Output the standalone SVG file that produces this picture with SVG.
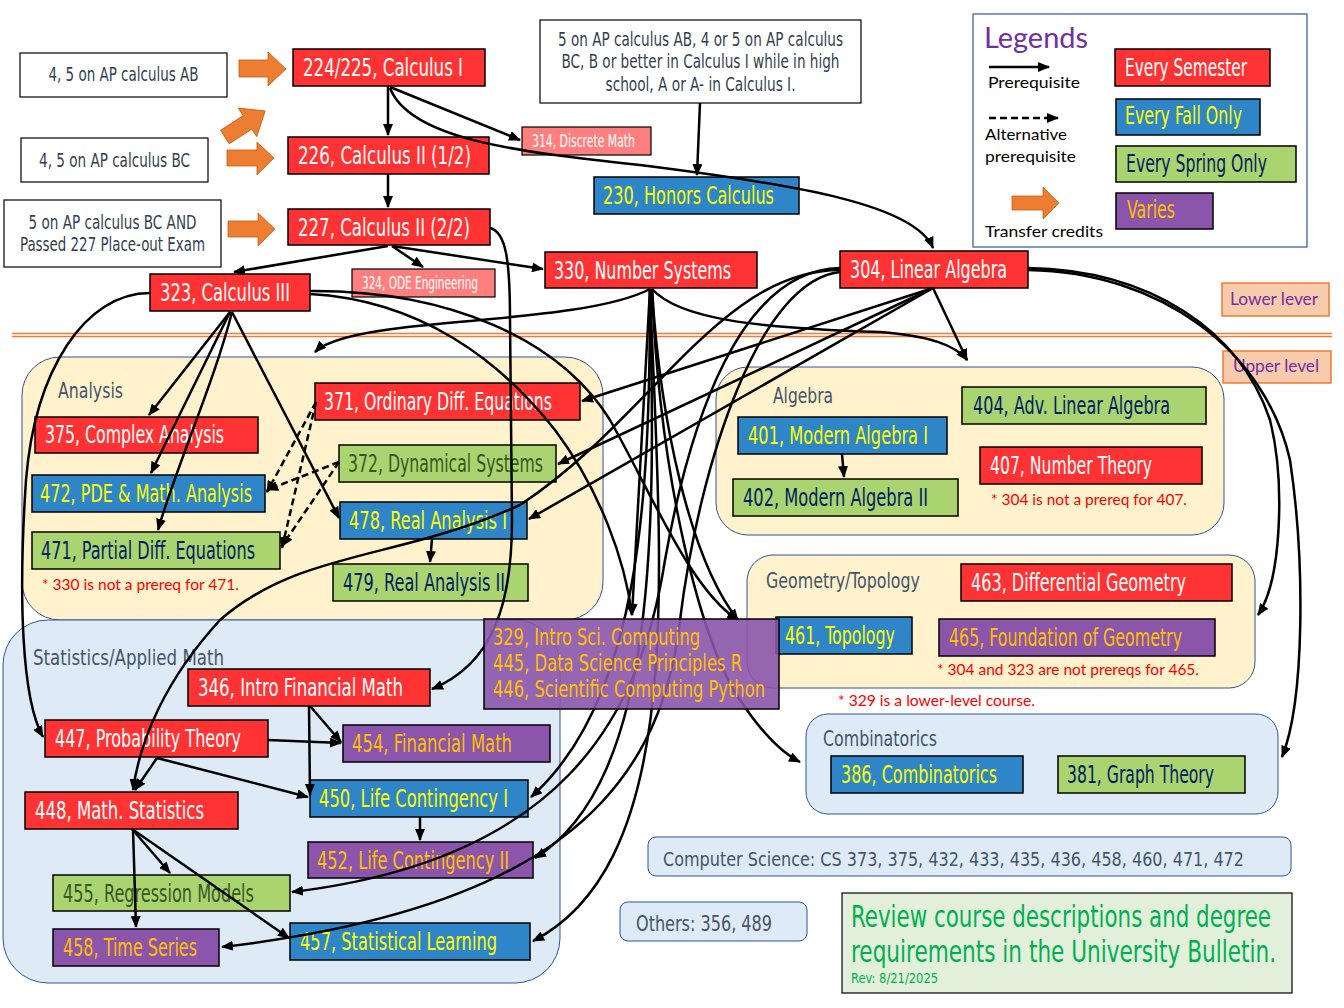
<svg xmlns="http://www.w3.org/2000/svg" width="1344" height="1008" viewBox="0 0 1344 1008">
<style>
.o{font-family:"Liberation Sans Narrow","DejaVu Sans Condensed","Roboto Condensed",sans-serif;}
.c{font-family:Lato,"Liberation Sans",sans-serif;}
.n{font-size:24px;}
.w{fill:#FFFFFF;}
.y{fill:#FFFF00;}
.v{fill:#002060;}
.g{fill:#385723;}
.or{fill:#FFC000;}
.sl{fill:#333F50;}
.lab{fill:#44546A;font-size:21px;}
.note{fill:#FF0000;font-size:16px;}
.red{fill:#FF3333;stroke:#000;stroke-width:1.5;}
.lred{fill:#FF7F7F;stroke:#000;stroke-width:1.2;}
.blue{fill:#2E86C8;stroke:#000;stroke-width:1.5;}
.green{fill:#A9D46F;stroke:#000;stroke-width:1.5;}
.purp{fill:#8A55AA;stroke:#000;stroke-width:1.5;}
.wbox{fill:#FFFFFF;stroke:#000;stroke-width:1.2;}
.reg1{fill:#FFF2CC;stroke:#2F5597;stroke-width:1;}
.reg2{fill:#DEEBF7;stroke:#2F5597;stroke-width:1;}
.tarr{fill:#ED7D31;stroke:#C55A11;stroke-width:0.8;}
.e{fill:none;stroke:#000;stroke-width:2.5;marker-end:url(#ah);}
.d{fill:none;stroke:#000;stroke-width:2.5;stroke-dasharray:7,4;marker-end:url(#ah);}
</style>
<defs>
<marker id="ah" markerUnits="userSpaceOnUse" markerWidth="12" markerHeight="10" refX="11" refY="5" orient="auto">
<path d="M0,0 L12,5 L0,10 z" fill="#000"/>
</marker>
</defs>
<rect width="1344" height="1008" fill="#FFFFFF"/>

<!-- level divider -->
<g id="divider">
<line x1="12" y1="333.5" x2="1332" y2="333.5" stroke="#ED7D31" stroke-width="1.3"/>
<line x1="12" y1="336.5" x2="1332" y2="336.5" stroke="#ED7D31" stroke-width="1.3"/>
</g>

<!-- regions -->
<g id="region-analysis"><rect class="reg1" x="22" y="357" width="581" height="263" rx="38"/><text class="o lab" x="58" y="398" textLength="65" lengthAdjust="spacingAndGlyphs">Analysis</text></g>
<g id="region-stats"><rect class="reg2" x="3" y="620" width="557" height="363" rx="45"/><text class="o lab" x="33" y="665" textLength="191" lengthAdjust="spacingAndGlyphs">Statistics/Applied Math</text></g>
<g id="region-algebra"><rect class="reg1" x="716" y="367" width="508" height="168" rx="32"/><text class="o lab" x="773" y="403" textLength="60" lengthAdjust="spacingAndGlyphs">Algebra</text></g>
<g id="region-geometry"><rect class="reg1" x="747" y="555" width="508" height="133" rx="26"/><text class="o lab" x="766" y="588" textLength="154" lengthAdjust="spacingAndGlyphs">Geometry/Topology</text></g>
<g id="region-comb"><rect class="reg2" x="806" y="714" width="472" height="100" rx="22"/><text class="o lab" x="823" y="746" textLength="114" lengthAdjust="spacingAndGlyphs">Combinatorics</text></g>
<g id="cs"><rect class="reg2" x="648" y="837" width="643" height="39" rx="8"/><text class="o" x="663" y="866" font-size="20" fill="#44546A" textLength="581" lengthAdjust="spacingAndGlyphs">Computer Science: CS 373, 375, 432, 433, 435, 436, 458, 460, 471, 472</text></g>
<g id="others"><rect class="reg2" x="620" y="902" width="187" height="39" rx="8"/><text class="o lab" x="636" y="931" textLength="136" lengthAdjust="spacingAndGlyphs">Others: 356, 489</text></g>
<g id="review"><rect x="842" y="893" width="450" height="100" fill="#E2EFDA" stroke="#000" stroke-width="1.2"/>
<text class="o" x="851" y="927" font-size="31" fill="#00B050" textLength="420" lengthAdjust="spacingAndGlyphs">Review course descriptions and degree</text>
<text class="o" x="851" y="962" font-size="31" fill="#00B050" textLength="425" lengthAdjust="spacingAndGlyphs">requirements in the University Bulletin.</text>
<text class="o" x="851" y="983" font-size="14" fill="#00B050" textLength="87" lengthAdjust="spacingAndGlyphs">Rev: 8/21/2025</text></g>

<!-- notes -->
<text class="c note" x="42" y="590" textLength="197" lengthAdjust="spacingAndGlyphs">* 330 is not a prereq for 471.</text>
<text class="c note" x="991" y="505" textLength="196" lengthAdjust="spacingAndGlyphs">* 304 is not a prereq for 407.</text>
<text class="c note" x="937" y="675" textLength="262" lengthAdjust="spacingAndGlyphs">* 304 and 323 are not prereqs for 465.</text>
<text class="c note" x="838" y="706" textLength="197" lengthAdjust="spacingAndGlyphs">* 329 is a lower-level course.</text>

<!-- level labels -->
<g id="lower"><rect x="1222" y="283" width="107" height="33" fill="#F8CBAD" stroke="#ED7D31" stroke-width="1.5"/><text class="c" x="1230" y="305" font-size="17" fill="#7030A0" textLength="88" lengthAdjust="spacingAndGlyphs">Lower lever</text></g>
<g id="upper"><rect x="1223" y="351" width="108" height="32" fill="#F8CBAD" stroke="#ED7D31" stroke-width="1.5"/><text class="c" x="1233" y="372" font-size="17" fill="#7030A0" textLength="86" lengthAdjust="spacingAndGlyphs">Upper level</text></g>

<!-- legend -->
<g id="legend">
<rect x="973" y="14" width="334" height="233" fill="#FFFFFF" stroke="#2F5597" stroke-width="1.2"/>
<text class="c" x="984" y="48" font-size="29" fill="#7030A0" textLength="104" lengthAdjust="spacingAndGlyphs">Legends</text>
<line x1="989" y1="67" x2="1049" y2="67" class="e"/>
<text class="c" x="988" y="88" font-size="16" fill="#000" textLength="92" lengthAdjust="spacingAndGlyphs">Prerequisite</text>
<line x1="989" y1="118" x2="1058" y2="118" class="d" stroke-dasharray="6,3"/>
<text class="c" x="985" y="140" font-size="16" fill="#000" textLength="82" lengthAdjust="spacingAndGlyphs">Alternative</text>
<text class="c" x="985" y="162" font-size="16" fill="#000" textLength="91" lengthAdjust="spacingAndGlyphs">prerequisite</text>
<polygon class="tarr" points="1012,196 1043,196 1043,187 1059,203 1043,219 1043,210 1012,210"/>
<text class="c" x="985" y="237" font-size="16" fill="#000" textLength="118" lengthAdjust="spacingAndGlyphs">Transfer credits</text>
<rect class="red" x="1115" y="49" width="155" height="37"/><text class="o n w" x="1125" y="76" textLength="122" lengthAdjust="spacingAndGlyphs">Every Semester</text>
<rect class="blue" x="1116" y="99" width="144" height="36"/><text class="o n y" x="1125" y="124" textLength="117" lengthAdjust="spacingAndGlyphs">Every Fall Only</text>
<rect class="green" x="1116" y="146" width="180" height="36"/><text class="o n v" x="1126" y="172" textLength="141" lengthAdjust="spacingAndGlyphs">Every Spring Only</text>
<rect class="purp" x="1116" y="193" width="97" height="36"/><text class="o n or" x="1127" y="218" textLength="48" lengthAdjust="spacingAndGlyphs">Varies</text>
</g>

<!-- transfer arrows -->
<g id="transfer">
<polygon class="tarr" points="239,60 268,60 268,52 286,69 268,86 268,77 239,77"/>
<polygon class="tarr" points="-24,-8 3,-8 3,-17 24,0 3,17 3,8 -24,8" transform="translate(245,124) rotate(-33)"/>
<polygon class="tarr" points="227,150 257,150 257,142 274,158 257,175 257,166 227,166"/>
<polygon class="tarr" points="228,221 258,221 258,213 275,229 258,246 258,237 228,237"/>
</g>

<!-- AP boxes -->
<g id="ap-ab"><rect class="wbox" x="20" y="53" width="207" height="44"/><text class="o sl" x="123.5" y="81" font-size="20" text-anchor="middle" textLength="150" lengthAdjust="spacingAndGlyphs">4, 5 on AP calculus AB</text></g>
<g id="ap-bc"><rect class="wbox" x="21" y="138" width="187" height="44"/><text class="o sl" x="114.5" y="167" font-size="20" text-anchor="middle" textLength="151" lengthAdjust="spacingAndGlyphs">4, 5 on AP calculus BC</text></g>
<g id="ap-bc-exam"><rect class="wbox" x="4" y="200" width="217" height="67"/>
<text class="o sl" x="112.5" y="229" font-size="20" text-anchor="middle" textLength="168" lengthAdjust="spacingAndGlyphs">5 on AP calculus BC AND</text>
<text class="o sl" x="112.5" y="251" font-size="20" text-anchor="middle" textLength="185" lengthAdjust="spacingAndGlyphs">Passed 227 Place-out Exam</text></g>
<g id="honors-req"><rect class="wbox" x="540" y="20" width="321" height="83"/>
<text class="o sl" x="700.5" y="46" font-size="20" text-anchor="middle" textLength="285" lengthAdjust="spacingAndGlyphs">5 on AP calculus AB, 4 or 5 on AP calculus</text>
<text class="o sl" x="700.5" y="68" font-size="20" text-anchor="middle" textLength="278" lengthAdjust="spacingAndGlyphs">BC, B or better in Calculus I while in high</text>
<text class="o sl" x="700.5" y="91" font-size="20" text-anchor="middle" textLength="190" lengthAdjust="spacingAndGlyphs">school, A or A- in Calculus I.</text></g>

<!-- course nodes -->
<g id="c224"><rect class="red" x="293" y="49" width="192" height="37"/><text class="o n w" x="303" y="76" textLength="160" lengthAdjust="spacingAndGlyphs">224/225, Calculus I</text></g>
<g id="c226"><rect class="red" x="288" y="137" width="201" height="37"/><text class="o n w" x="298" y="164" textLength="173" lengthAdjust="spacingAndGlyphs">226, Calculus II (1/2)</text></g>
<g id="c227"><rect class="red" x="288" y="209" width="202" height="36"/><text class="o n w" x="298" y="236" textLength="172" lengthAdjust="spacingAndGlyphs">227, Calculus II (2/2)</text></g>
<g id="c314"><rect class="lred" x="522" y="127" width="129" height="28"/><text class="o w" x="532" y="147" font-size="18" textLength="103" lengthAdjust="spacingAndGlyphs">314, Discrete Math</text></g>
<g id="c230"><rect class="blue" x="594" y="177" width="205" height="37"/><text class="o n y" x="603" y="204" textLength="171" lengthAdjust="spacingAndGlyphs">230, Honors Calculus</text></g>
<g id="c323"><rect class="red" x="150" y="274" width="160" height="37"/><text class="o n w" x="160" y="301" textLength="130" lengthAdjust="spacingAndGlyphs">323, Calculus III</text></g>
<g id="c324"><rect class="lred" x="352" y="269" width="143" height="28"/><text class="o w" x="362" y="289" font-size="17" textLength="116" lengthAdjust="spacingAndGlyphs">324, ODE Engineering</text></g>
<g id="c330"><rect class="red" x="545" y="252" width="212" height="36"/><text class="o n w" x="554" y="279" textLength="177" lengthAdjust="spacingAndGlyphs">330, Number Systems</text></g>
<g id="c304"><rect class="red" x="840" y="251" width="188" height="37"/><text class="o n w" x="850" y="278" textLength="157" lengthAdjust="spacingAndGlyphs">304, Linear Algebra</text></g>

<g id="c371"><rect class="red" x="315" y="383" width="265" height="37"/><text class="o n w" x="324" y="410" textLength="228" lengthAdjust="spacingAndGlyphs">371, Ordinary Diff. Equations</text></g>
<g id="c375"><rect class="red" x="35" y="417" width="223" height="36"/><text class="o n w" x="45" y="443" textLength="179" lengthAdjust="spacingAndGlyphs">375, Complex Analysis</text></g>
<g id="c372"><rect class="green" x="339" y="445" width="217" height="37"/><text class="o n g" x="348" y="472" textLength="195" lengthAdjust="spacingAndGlyphs">372, Dynamical Systems</text></g>
<g id="c472"><rect class="blue" x="32" y="475" width="233" height="37"/><text class="o n y" x="40" y="502" textLength="212" lengthAdjust="spacingAndGlyphs">472, PDE &amp; Math. Analysis</text></g>
<g id="c478"><rect class="blue" x="340" y="502" width="187" height="37"/><text class="o n y" x="349" y="529" textLength="158" lengthAdjust="spacingAndGlyphs">478, Real Analysis I</text></g>
<g id="c471"><rect class="green" x="32" y="532" width="248" height="37"/><text class="o n v" x="41" y="559" textLength="214" lengthAdjust="spacingAndGlyphs">471, Partial Diff. Equations</text></g>
<g id="c479"><rect class="green" x="333" y="564" width="195" height="37"/><text class="o n v" x="343" y="591" textLength="162" lengthAdjust="spacingAndGlyphs">479, Real Analysis II</text></g>

<g id="c346"><rect class="red" x="188" y="669" width="242" height="37"/><text class="o n w" x="198" y="696" textLength="205" lengthAdjust="spacingAndGlyphs">346, Intro Financial Math</text></g>
<g id="c447"><rect class="red" x="45" y="720" width="223" height="37"/><text class="o n w" x="55" y="747" textLength="186" lengthAdjust="spacingAndGlyphs">447, Probability Theory</text></g>
<g id="c454"><rect class="purp" x="343" y="725" width="207" height="37"/><text class="o n or" x="352" y="752" textLength="160" lengthAdjust="spacingAndGlyphs">454, Financial Math</text></g>
<g id="c450"><rect class="blue" x="310" y="780" width="218" height="37"/><text class="o n y" x="319" y="807" textLength="189" lengthAdjust="spacingAndGlyphs">450, Life Contingency I</text></g>
<g id="c448"><rect class="red" x="25" y="792" width="213" height="37"/><text class="o n w" x="35" y="819" textLength="169" lengthAdjust="spacingAndGlyphs">448, Math. Statistics</text></g>
<g id="c452"><rect class="purp" x="308" y="842" width="225" height="36"/><text class="o n or" x="317" y="869" textLength="192" lengthAdjust="spacingAndGlyphs">452, Life Contingency II</text></g>
<g id="c455"><rect class="green" x="53" y="875" width="237" height="36"/><text class="o n g" x="63" y="902" textLength="191" lengthAdjust="spacingAndGlyphs">455, Regression Models</text></g>
<g id="c458"><rect class="purp" x="53" y="929" width="166" height="37"/><text class="o n or" x="63" y="956" textLength="134" lengthAdjust="spacingAndGlyphs">458, Time Series</text></g>
<g id="c457"><rect class="blue" x="290" y="923" width="240" height="37"/><text class="o n y" x="300" y="950" textLength="197" lengthAdjust="spacingAndGlyphs">457, Statistical Learning</text></g>

<g id="c404"><rect class="green" x="962" y="387" width="244" height="37"/><text class="o n v" x="973" y="414" textLength="197" lengthAdjust="spacingAndGlyphs">404, Adv. Linear Algebra</text></g>
<g id="c401"><rect class="blue" x="738" y="417" width="209" height="37"/><text class="o n y" x="748" y="444" textLength="180" lengthAdjust="spacingAndGlyphs">401, Modern Algebra I</text></g>
<g id="c407"><rect class="red" x="980" y="447" width="222" height="37"/><text class="o n w" x="990" y="474" textLength="162" lengthAdjust="spacingAndGlyphs">407, Number Theory</text></g>
<g id="c402"><rect class="green" x="733" y="479" width="225" height="37"/><text class="o n v" x="743" y="506" textLength="185" lengthAdjust="spacingAndGlyphs">402, Modern Algebra II</text></g>
<g id="c463"><rect class="red" x="961" y="564" width="271" height="37"/><text class="o n w" x="971" y="591" textLength="215" lengthAdjust="spacingAndGlyphs">463, Differential Geometry</text></g>
<g id="c461"><rect class="blue" x="776" y="617" width="136" height="37"/><text class="o n y" x="785" y="644" textLength="110" lengthAdjust="spacingAndGlyphs">461, Topology</text></g>
<g id="c465"><rect class="purp" x="939" y="619" width="276" height="37"/><text class="o n or" x="949" y="646" textLength="233" lengthAdjust="spacingAndGlyphs">465, Foundation of Geometry</text></g>
<g id="c386"><rect class="blue" x="831" y="756" width="192" height="37"/><text class="o n y" x="841" y="783" textLength="156" lengthAdjust="spacingAndGlyphs">386, Combinatorics</text></g>
<g id="c381"><rect class="green" x="1058" y="756" width="187" height="37"/><text class="o n v" x="1067" y="783" textLength="147" lengthAdjust="spacingAndGlyphs">381, Graph Theory</text></g>

<!-- connectors -->
<g id="connectors">
<path class="e" d="M388,86 L388,135"/>
<path class="e" d="M390,87 L520,140"/>
<path class="e" d="M390,88 C410,140 520,152 640,165 C800,185 915,205 933,248"/>
<path class="e" d="M700,103 L697,175"/>
<path class="e" d="M388,174 L388,207"/>
<path class="e" d="M388,246 L234,272"/>
<path class="e" d="M392,246 L423,267"/>
<path class="e" d="M392,246 L543,269"/>
<path class="e" d="M490,228 C506,232 510,260 510,320 L512,520 C512,610 490,665 432,689"/>
<path class="e" d="M150,293 C85,293 35,370 26,480 C18,600 22,700 43,737"/>
<path class="e" d="M230,312 L149,415"/>
<path class="e" d="M230,312 L151,473"/>
<path class="e" d="M232,312 C215,380 175,470 158,530"/>
<path class="e" d="M232,312 L339,518"/>
<path class="e" d="M310,291 C450,290 560,340 610,420 C650,490 690,590 738,620"/>
<path class="e" d="M310,294 C420,300 500,360 555,430 C600,490 625,560 632,615"/>
<path class="e" d="M650,289 C600,315 480,318 400,328 C350,334 325,342 315,352"/>
<path class="e" d="M652,289 C680,320 760,328 880,332 C930,336 955,345 967,360"/>
<path class="e" d="M650,289 L632,615"/>
<path class="e" d="M652,289 C660,420 690,560 738,620"/>
<path class="e" d="M652,289 C660,480 700,640 740,700 C760,730 780,752 800,762"/>
<path class="e" d="M650,289 C650,500 640,700 531,797"/>
<path class="e" d="M650,289 C655,520 660,780 535,858"/>
<path class="e" d="M650,289 C660,560 690,860 533,941"/>
<path class="e" d="M933,288 L967,360"/>
<path class="e" d="M933,288 L582,401"/>
<path class="e" d="M933,288 L558,464"/>
<path class="e" d="M933,288 L529,519"/>
<path class="e" d="M840,270 C720,270 650,420 520,505 C400,560 300,550 220,620 C165,680 140,740 133,790"/>
<path class="e" d="M840,268 C740,270 690,420 665,560 C640,720 560,860 292,892"/>
<path class="e" d="M840,272 C760,280 700,460 680,620 C660,800 540,910 222,947"/>
<path class="e" d="M1028,268 C1150,270 1240,330 1270,420 C1285,480 1282,580 1258,615"/>
<path class="e" d="M1028,270 C1160,272 1265,350 1290,460 C1305,560 1305,700 1282,757"/>
<path class="e" d="M842,454 L844,477"/>
<path class="e" d="M432,539 L430,562"/>
<path class="d" d="M316,402 L267,492"/>
<path class="d" d="M316,402 L282,548"/>
<path class="d" d="M339,462 L267,490"/>
<path class="d" d="M339,462 L282,546"/>
<path class="e" d="M157,758 L135,790"/>
<path class="e" d="M157,758 L308,797"/>
<path class="e" d="M268,740 L341,743"/>
<path class="e" d="M310,706 L341,742"/>
<path class="e" d="M309,706 L310,795"/>
<path class="e" d="M420,817 L420,840"/>
<path class="e" d="M132,829 L170,873"/>
<path class="e" d="M133,829 L136,927"/>
<path class="e" d="M132,829 L289,938"/>
</g>

<!-- multi-course box (semi-transparent, drawn over lines) -->
<g id="c329"><rect class="purp" x="484" y="619" width="295" height="90" fill-opacity="0.9"/>
<text class="o or" x="493" y="645" font-size="23" textLength="207" lengthAdjust="spacingAndGlyphs">329, Intro Sci. Computing</text>
<text class="o or" x="493" y="671" font-size="23" textLength="249" lengthAdjust="spacingAndGlyphs">445, Data Science Principles R</text>
<text class="o or" x="493" y="697" font-size="23" textLength="272" lengthAdjust="spacingAndGlyphs">446, Scientific Computing Python</text></g>
</svg>
